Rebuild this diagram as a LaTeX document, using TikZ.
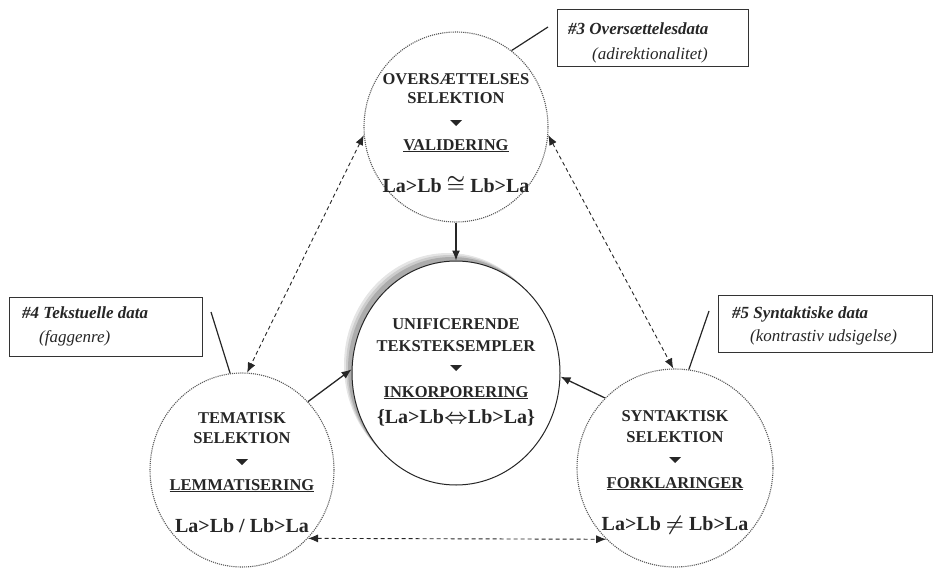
\documentclass[tikz,border=0pt]{standalone}
\usepackage{fontspec}
\setmainfont{Liberation Serif}
\usetikzlibrary{shapes.geometric,arrows.meta,calc}
\begin{document}
\begin{tikzpicture}[x=1pt,y=-1pt,
  ell/.style={draw=black!65, densely dotted, line width=1.1pt, ellipse, inner sep=0pt},
  captext/.style={font=\fontsize{16.5}{18}\selectfont\bfseries, text=black!85, anchor=base, inner sep=0pt},
  eqtext/.style={font=\fontsize{20}{22}\selectfont\bfseries\boldmath, text=black!85, anchor=base, inner sep=0pt},
  infobox/.style={draw=black!80, line width=1pt, rectangle, inner sep=0pt},
  infohead/.style={font=\fontsize{17}{19}\selectfont\bfseries\itshape, anchor=base west, inner sep=0pt, text=black!85},
  infosub/.style={font=\fontsize{17}{19}\selectfont\itshape, anchor=base west, inner sep=0pt, text=black!85},
  solidarr/.style={draw=black!85, line width=1.3pt, -{Latex[length=10pt,width=8pt]}},
  dasharr/.style={draw=black!85, line width=0.9pt, dash pattern=on 4pt off 3pt, {Latex[length=10pt,width=8pt]}-{Latex[length=10pt,width=8pt]}},
  tickline/.style={draw=black!85, line width=1.2pt},
  tri/.style={fill=black!85}
]
\useasboundingbox (0,0) rectangle (933,567);

% circles
\node[ell, minimum width=184pt, minimum height=190pt] (T) at (456,127) {};
\node[ell, minimum width=184pt, minimum height=194pt] (L) at (242,470) {};
\node[ell, minimum width=196pt, minimum height=198pt] (R) at (675,468) {};

% centre ellipse with shadow
\fill[gray!20] (448,365) ellipse [x radius=104pt, y radius=112pt];
\fill[gray!40] (450,367) ellipse [x radius=104pt, y radius=112pt];
\fill[gray!65] (452,369) ellipse [x radius=104pt, y radius=112pt];
\node[ellipse, draw=black!85, fill=white, line width=1pt, minimum width=208pt, minimum height=224pt, inner sep=0pt] (C) at (456,373) {};

% top circle text
\node[captext] (t1) at (456,85) {OVERSÆTTELSES};
\node[captext] (t2) at (456,103) {SELEKTION};
\fill[tri] (450,120) -- (462,120) -- (456,126) -- cycle;
\node[captext] (t3) at (456,150) {\underline{VALIDERING}};
\node[eqtext] (t4) at (456,192) {La>Lb $\cong$ Lb>La};

% left circle text
\node[captext] (l1) at (242,423) {TEMATISK};
\node[captext] (l2) at (242,443) {SELEKTION};
\fill[tri] (236,459) -- (248,459) -- (242,465) -- cycle;
\node[captext] (l3) at (242,490) {\underline{LEMMATISERING}};
\node[eqtext] (l4) at (242,532) {La>Lb / Lb>La};

% right circle text
\node[captext] (r1) at (675,421) {SYNTAKTISK};
\node[captext] (r2) at (675,442) {SELEKTION};
\fill[tri] (669,457) -- (681,457) -- (675,463) -- cycle;
\node[captext] (r3) at (675,488) {\underline{FORKLARINGER}};
\node[eqtext] (r4) at (675,530) {La>Lb $\neq$ Lb>La};

% centre text
\node[captext] (c1) at (456,329) {UNIFICERENDE};
\node[captext] (c2) at (456,351) {TEKSTEKSEMPLER};
\fill[tri] (450,365) -- (462,365) -- (456,371) -- cycle;
\node[captext] (c3) at (456,397) {\underline{INKORPORERING}};
\node[eqtext] (c4) at (456,423) {\{La>Lb$\Leftrightarrow$Lb>La\}};

% info boxes
\node[infobox, minimum width=191pt, minimum height=57pt] (B3) at (652.5,38.5) {};
\node[infohead] (b3a) at (568,35) {\#3 Oversættelesdata};
\node[infosub] (b3b) at (592,60) {(adirektionalitet)};

\node[infobox, minimum width=193pt, minimum height=59pt] (B4) at (105.5,326.5) {};
\node[infohead] (b4a) at (22,318) {\#4 Tekstuelle data};
\node[infosub] (b4b) at (39,342) {(faggenre)};

\node[infobox, minimum width=214pt, minimum height=57pt] (B5) at (825,323.5) {};
\node[infohead] (b5a) at (732,318) {\#5 Syntaktiske data};
\node[infosub] (b5b) at (750,341) {(kontrastiv udsigelse)};

% box pointer lines
\coordinate (p3) at (548,27);
\coordinate (p4) at (211,312);
\coordinate (p5) at (709,311);
\draw[tickline] (p3) -- (T.54);
\draw[tickline] (p4) -- (L.97);
\draw[tickline] (p5) -- (R.82);

% solid arrows to centre
\draw[solidarr] (T.270) -- (C.90);
\draw[solidarr] (L.46) -- (C.178);
\draw[solidarr] (R.135) -- (C.358);

% dashed double arrows
\draw[dasharr] (T.185) -- (L.87);
\draw[dasharr] (T.355) -- (R.91);
\draw[dasharr] (L.-46) -- (R.226);
\end{tikzpicture}
\end{document}
